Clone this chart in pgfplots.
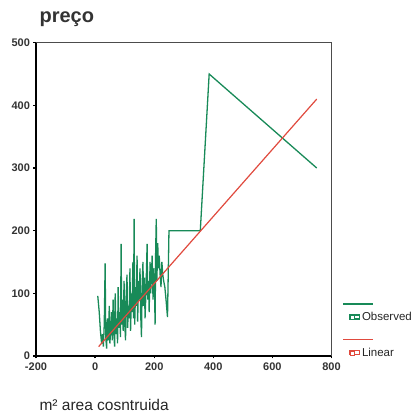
\documentclass[border=0pt]{standalone}
\usepackage{fontspec}
\setmainfont{Liberation Sans}
\usepackage{pgfplots}
\pgfplotsset{compat=1.18}
\definecolor{obsgreen}{RGB}{24,138,88}
\definecolor{linred}{RGB}{224,74,62}
\begin{document}
\begin{tikzpicture}[x=1pt,y=1pt]
\useasboundingbox (0,0) rectangle (419,420);
\begin{axis}[
  at={(36pt,64pt)}, anchor=south west,
  scale only axis, width=295.5pt, height=313.3pt,
  xmin=-200, xmax=800, ymin=0, ymax=500,
  axis x line*=bottom, axis y line*=left,
  axis line style={black, line width=1.1pt},
  xtick={-200,0,...,800}, ytick={0,100,...,500},
  tick align=outside, major tick length=2.5pt,
  every tick/.style={black, line width=1.3pt},
  tick label style={font=\fontsize{11}{12}\selectfont\bfseries, text=black!80},
  xticklabel style={yshift=-1pt},
  /pgf/number format/assume math mode=true,
  clip=false,
  title={preço},
  title style={at={(axis description cs:0,1)}, anchor=base west, yshift=14pt, xshift=0pt,
    font=\fontsize{20}{24}\selectfont\bfseries, text=black!80},
  xlabel={m² area cosntruida},
  xlabel style={at={(axis description cs:0,0)}, anchor=base west, yshift=-54pt,
    font=\fontsize{15.5}{18}\selectfont, text=black!85},
  legend style={at={(axis description cs:1,0)}, anchor=south west, xshift=17pt, yshift=-4pt,
    draw=none, fill=none, font=\fontsize{11.5}{13}\selectfont, row sep=22pt,
    text=black!85, inner sep=0pt},
  legend cell align=left,
  legend image code/.code={
    \path[use as bounding box] (0pt,-2pt) rectangle (10pt,2pt);
    \draw[#1] (-6pt,13pt) -- (24pt,13pt);
    \draw[#1, line width=0.6pt, fill=white] (0.5pt,-2pt) rectangle (4.5pt,2pt);
  },
]
\addplot[obsgreen, line width=1.3pt] coordinates {
(9,96) (14,70) (18,40) (22,20) (25,35) (28,15) (31,50) (34,148) (36,30) (39,12)
(42,60) (45,25) (48,80) (50,20) (53,45) (56,70) (58,25) (61,90) (63,40) (66,15)
(68,100) (71,35) (73,60) (76,20) (78,110) (81,45) (83,70) (86,30) (88,179) (90,50)
(93,90) (95,40) (98,120) (100,55) (103,25) (105,95) (108,130) (110,45) (113,80) (115,60)
(118,140) (120,40) (123,100) (125,70) (128,150) (130,60) (132,219) (134,50) (137,110) (139,80)
(142,160) (144,55) (147,120) (149,90) (152,140) (154,70) (157,30) (159,110) (162,150) (164,80)
(167,125) (169,60) (172,100) (174,140) (176,179) (178,90) (181,120) (183,70) (186,150) (188,100)
(191,130) (193,160) (196,90) (198,140) (201,110) (203,50) (205,170) (207,219) (209,120) (212,180)
(214,140) (217,160) (220,130) (223,110) (226,150) (229,130) (232,120) (236,110) (240,90) (245,62)
(250,200) (356,200) (386,450) (750,300)
};
\addlegendentry{Observed}
\addplot[linred, line width=1.2pt] coordinates {(12,15) (750,410)};
\addlegendentry{Linear}
\draw[black!70, line width=1.1pt] (rel axis cs:0,1) -- (rel axis cs:1,1) -- (rel axis cs:1,0);
\end{axis}
\end{tikzpicture}
\end{document}
